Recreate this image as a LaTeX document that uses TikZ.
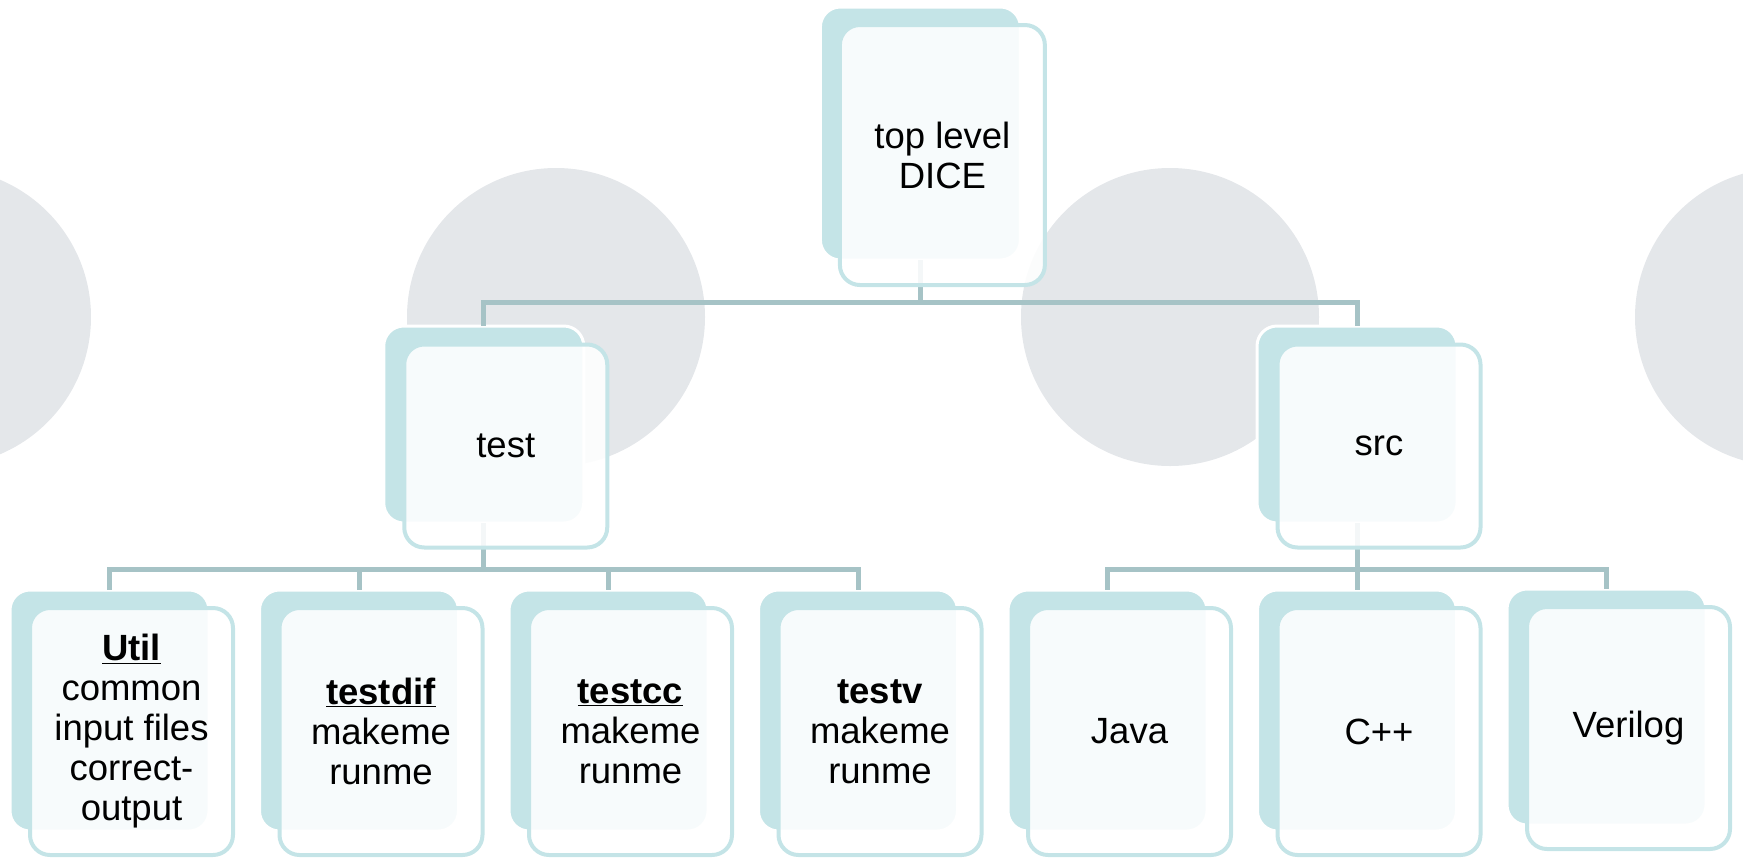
\documentclass[tikz,border=0pt]{standalone}
\usepackage{fontspec}
\setmainfont{Liberation Sans}
\usetikzlibrary{positioning, calc}
\definecolor{ringgray}{HTML}{E4E7EA}
\definecolor{boxteal}{HTML}{C4E4E7}
\definecolor{linkteal}{HTML}{A6C3C6}

\begin{document}
\begin{tikzpicture}[x=1pt, y=-1pt, node distance=50.5pt,
    back/.style={draw=white, line width=3pt, fill=boxteal, rounded corners=20pt, inner sep=0pt, outer sep=0pt},
    front/.style={draw=boxteal, line width=4pt, fill=white, fill opacity=0.88, text opacity=1, rounded corners=20pt,
      align=center, inner sep=2pt, outer sep=0pt, font={\fontsize{36.5}{40}\selectfont}},
    low/.style={minimum width=199pt, minimum height=241pt},
    conn/.style={draw=linkteal, line width=5pt}]
			\clip (0,0) rectangle (1743,863);
			% grey discs in the background
			\foreach \cx in {-58, 556, 1170, 1784}
				\fill[ringgray] (\cx,317) circle (149pt);
			% back plates
			\node[back, low] at (109.5,710.5) (util) {};
			\node[back, low, right =of util] (testdif) {};
			\node[back, low, right =of testdif] (testcc) {};
			\node[back, low, right =of testcc] (testv) {};
			\node[back, low, right =of testv] (java) {};
			\node[back, low, right =of java] (cpp) {};
			\node[back, minimum width=199pt, minimum height=236pt, right =of cpp, yshift=3.5pt] (verilog) {};
			\node[back, minimum width=200pt, minimum height=197pt] at ($(testdif)!.5!(testcc) + (0,-286)$) (test) {};
			\node[back, minimum width=200pt, minimum height=197pt] at (cpp |- test) (src) {};
			\node[back, minimum width=200pt, minimum height=253pt] at ($(test)!.5!(src) + (0,-291)$) (dice) {};
			% connectors
			\foreach \to in {test, src}
				\draw[conn] (dice.south) -- ++(0,42.5) -| (\to.north);
			\foreach \to in {util, testdif, testcc, testv}
				\draw[conn] (test.south) -- ++(0,46) -| (\to.north);
			\foreach \to in {java, cpp, verilog}
				\draw[conn] (src.south) -- ++(0,46) -| (\to.north);
			% front cards with the labels
			\node[front, minimum width=205pt, minimum height=260pt] at ([shift={(22,21.5)}]dice.center) (dicecard) {top level\\DICE};
			\node[front, minimum width=203pt, minimum height=203pt] at ([shift={(22,21.5)}]test.center) (testcard) {test};
			\node[front, minimum width=203pt, minimum height=203pt] at ([shift={(22,21.5)}]src.center) (srccard) {src};
			\node[front, minimum width=203pt, minimum height=247pt] at ([shift={(22,21)}]util.center) (utilcard) {\underline{\textbf{Util}}\\common\\input files\\correct-\\output};
			\node[front, minimum width=203pt, minimum height=247pt] at ([shift={(22,21)}]testdif.center) (testdifcard) {\underline{\textbf{testdif}}\\makeme\\runme};
			\node[front, minimum width=203pt, minimum height=247pt] at ([shift={(22,21)}]testcc.center) (testcccard) {\underline{\textbf{testcc}}\\makeme\\runme};
			\node[front, minimum width=203pt, minimum height=247pt] at ([shift={(22,21)}]testv.center) (testvcard) {\textbf{testv}\\makeme\\runme};
			\node[front, minimum width=203pt, minimum height=247pt] at ([shift={(22,21)}]java.center) (javacard) {Java};
			\node[front, minimum width=203pt, minimum height=247pt] at ([shift={(22,21)}]cpp.center) (cppcard) {C++};
			\node[front, minimum width=203pt, minimum height=242pt] at ([shift={(22,21)}]verilog.center) (verilogcard) {Verilog};
		\end{tikzpicture}
\end{document}
